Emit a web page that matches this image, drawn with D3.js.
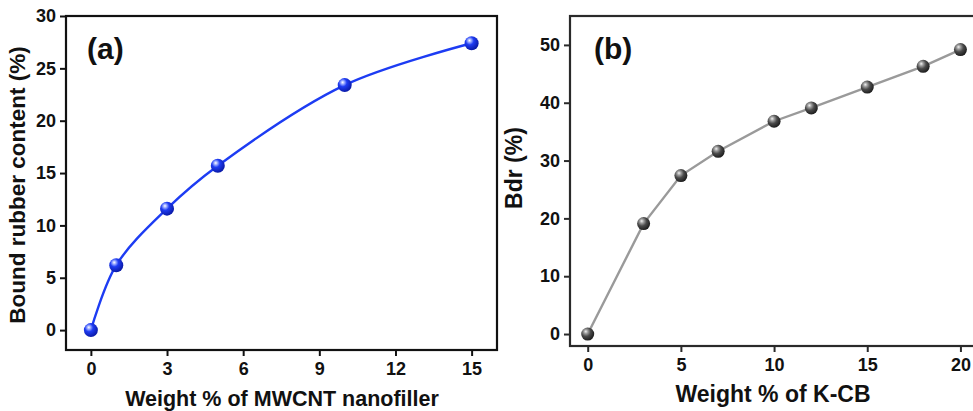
<!DOCTYPE html>
<html><head><meta charset="utf-8">
<script src="https://cdn.jsdelivr.net/npm/d3@7"></script>
<style>
html,body{margin:0;padding:0;background:#fff;}
svg{display:block;font-family:"Liberation Sans",Arial,sans-serif;font-weight:bold;}
</style></head>
<body>
<svg id="chart" width="973" height="411"></svg>
<script>
// Panel (a) data
const mwcntLoad = [0, 1, 3, 5, 10, 15];
const boundRubber = [0, 6.2, 11.6, 15.7, 23.4, 27.4];
const aXTicks = [0, 3, 6, 9, 12, 15];
const aYTicks = [0, 5, 10, 15, 20, 25, 30];
// Panel (b) data
const kcbLoad = [0, 3, 5, 7, 10, 12, 15, 18, 20];
const bdr = [0, 19.1, 27.4, 31.6, 36.8, 39.1, 42.7, 46.3, 49.2];
const bXTicks = [0, 5, 10, 15, 20];
const bYTicks = [0, 10, 20, 30, 40, 50];

const svg = d3.select("#chart");
const defs = svg.append("defs");
function sphereGrad(id, stops){
  const g = defs.append("radialGradient").attr("id", id)
    .attr("cx","38%").attr("cy","35%").attr("r","65%").attr("fx","35%").attr("fy","30%");
  stops.forEach(s => g.append("stop").attr("offset", s[0]).attr("stop-color", s[1]));
}
sphereGrad("blueBall", [["0%","#ffffff"],["22%","#8ea0ff"],["45%","#1f3cf2"],["100%","#0a1aa8"]]);
sphereGrad("grayBall", [["0%","#f2f2f2"],["25%","#9a9a9a"],["55%","#4a4a4a"],["100%","#1e1e1e"]]);

function panel(cfg){
  const g = svg.append("g");
  const x = d3.scaleLinear().domain(cfg.xDomain).range([cfg.left, cfg.right]);
  const y = d3.scaleLinear().domain(cfg.yDomain).range([cfg.bottom, cfg.top]);
  g.append("rect").attr("x", cfg.left).attr("y", cfg.top)
    .attr("width", cfg.right - cfg.left).attr("height", cfg.bottom - cfg.top)
    .attr("fill", "none").attr("stroke", cfg.frame).attr("stroke-width", 2.2);
  const xa = g.append("g").attr("transform", `translate(0,${cfg.bottom})`)
    .call(d3.axisBottom(x).tickValues(cfg.xTicks).tickSize(6).tickPadding(6).tickFormat(d3.format("d")));
  const ya = g.append("g").attr("transform", `translate(${cfg.left},0)`)
    .call(d3.axisLeft(y).tickValues(cfg.yTicks).tickSize(6).tickPadding(4).tickFormat(d3.format("d")));
  [xa, ya].forEach(a => {
    a.select(".domain").remove();
    a.selectAll(".tick line").attr("stroke", cfg.frame).attr("stroke-width", 2);
    a.selectAll(".tick text").attr("fill", "#111").style("font-size", cfg.tickFont + "px")
      .style("font-family", '"Liberation Sans",Arial,sans-serif').style("font-weight", "bold");
  });
  const pts = cfg.xs.map((v, i) => [v, cfg.ys[i]]);
  g.append("path").datum(pts)
    .attr("d", d3.line().x(d => x(d[0])).y(d => y(d[1])).curve(cfg.curve))
    .attr("fill", "none").attr("stroke", cfg.lineColor).attr("stroke-width", 2.4);
  g.selectAll("circle.pt").data(pts).enter().append("circle")
    .attr("class", "pt").attr("cx", d => x(d[0])).attr("cy", d => y(d[1]))
    .attr("r", cfg.r).attr("fill", `url(#${cfg.grad})`);
  g.append("text").attr("x", cfg.labelX).attr("y", 59).text(cfg.label)
    .style("font-size", "30px").attr("fill", "#111");
  g.append("text").attr("x", cfg.xTitleX).attr("y", cfg.xTitleY).attr("text-anchor", "middle")
    .text(cfg.xTitle).style("font-size", cfg.xTitleFont + "px").attr("fill", "#111");
  g.append("text").attr("transform", `translate(${cfg.yTitleX},${cfg.yTitleY}) rotate(-90)`)
    .attr("text-anchor", "middle").text(cfg.yTitle).style("font-size", cfg.yTitleFont + "px").attr("fill", "#111");
}

panel({
  xs: mwcntLoad, ys: boundRubber, xTicks: aXTicks, yTicks: aYTicks,
  xDomain: [-0.98, 16], yDomain: [-1.9, 30],
  left: 66, right: 497, top: 16, bottom: 350,
  frame: "#111", lineColor: "#1d3cf3", grad: "blueBall", r: 7,
  curve: d3.curveCatmullRom.alpha(0.5), tickFont: 18, xTitleFont: 21.5, yTitleFont: 22.5,
  label: "(a)", labelX: 87,
  xTitle: "Weight % of MWCNT nanofiller", xTitleX: 282, xTitleY: 406,
  yTitle: "Bound rubber content (%)", yTitleX: 25, yTitleY: 185
});

panel({
  xs: kcbLoad, ys: bdr, xTicks: bXTicks, yTicks: bYTicks,
  xDomain: [-0.95, 21.05], yDomain: [-2.07, 55],
  left: 570, right: 980, top: 16, bottom: 346,
  frame: "#2a2a2a", lineColor: "#9a9a9a", grad: "grayBall", r: 6.5,
  curve: d3.curveLinear, tickFont: 18, xTitleFont: 23, yTitleFont: 23,
  label: "(b)", labelX: 594,
  xTitle: "Weight % of K-CB", xTitleX: 773, xTitleY: 402,
  yTitle: "Bdr (%)", yTitleX: 522, yTitleY: 168
});
</script>
</body></html>
